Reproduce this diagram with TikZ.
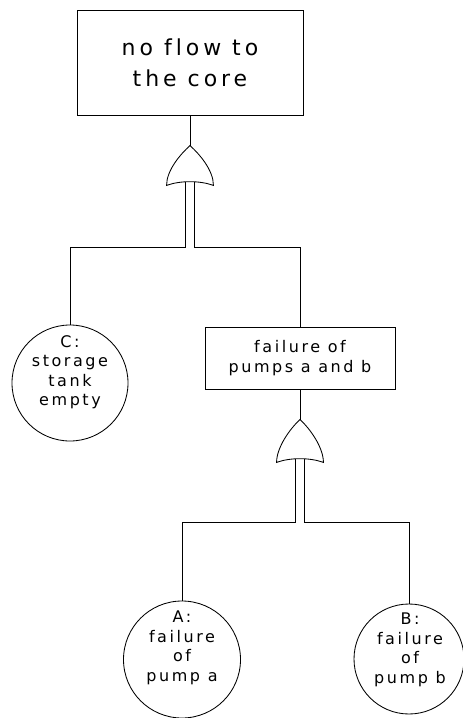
\documentclass[tikz,border=0pt]{standalone}
\usepackage{fontspec}
\setmainfont{DejaVu Sans}[LetterSpace=16,Ligatures=NoCommon]
\usetikzlibrary{calc}
\newcommand\orgateshape[1]{%
  \draw (#1.south west) .. controls ($(#1.south west)+(0,-15)$) and ($(#1.north)+(-10,9)$) .. (#1.north)
        .. controls ($(#1.north)+(10,9)$) and ($(#1.south east)+(0,-15)$) .. (#1.south east)
        .. controls ($(#1.south)+(10,-5)$) and ($(#1.south)+(-10,-5)$) .. cycle;}
\begin{document}
\begin{tikzpicture}[x=1pt,y=-1pt,line width=0.85pt,
  evbox/.style={draw,rectangle,inner sep=0pt,align=center},
  basic/.style={draw,circle,inner sep=0pt},
  lbl/.style={align=center,inner sep=0pt,font=\fontsize{16}{19.5}\selectfont},
  gatebox/.style={rectangle,inner sep=0pt,minimum width=46pt,minimum height=40pt}]
\useasboundingbox (0,0) rectangle (463,718);
% top event
\node[evbox,minimum width=226pt,minimum height=105pt,font=\fontsize{22}{31}\selectfont\addfontfeatures{LetterSpace=18}] (T) at (190,62.5) {no flow to\\the core};
\node[gatebox,minimum height=39pt] (G1) at (190,165.5) {};
\orgateshape{G1}
\draw (T.south) -- (G1.north);
% basic event C
\node[basic,minimum size=116pt] (C) at (70,383) {};
\node[lbl] (Ct) at (70,372) {C:\\storage\\tank\\empty};
% intermediate event
\node[evbox,minimum width=190pt,minimum height=62pt,font=\fontsize{16}{19.5}\selectfont] (P) at (300,358) {failure of\\pumps a and b};
\draw ([xshift=-5pt,yshift=3pt]G1.south) -- ++(0,65) -| (C.north);
\draw ([xshift=4pt,yshift=3pt]G1.south) -- ++(0,65) -| (P.north);
% second gate
\node[gatebox,minimum height=42pt] (G2) at (300,441) {};
\orgateshape{G2}
\draw (P.south) -- (G2.north);
% basic events A and B
\node[basic,minimum size=117pt] (A) at (182,659.5) {};
\node[lbl] (At) at (182,648) {A:\\failure\\of\\pump a};
\node[basic,minimum size=110pt] (B) at (409,659) {};
\node[lbl] (Bt) at (410,650) {B:\\failure\\of\\pump b};
\draw ([xshift=-5pt,yshift=3pt]G2.south) -- ++(0,63) -| (A.north);
\draw ([xshift=4pt,yshift=3pt]G2.south) -- ++(0,63) -| (B.north);
\end{tikzpicture}
\end{document}
